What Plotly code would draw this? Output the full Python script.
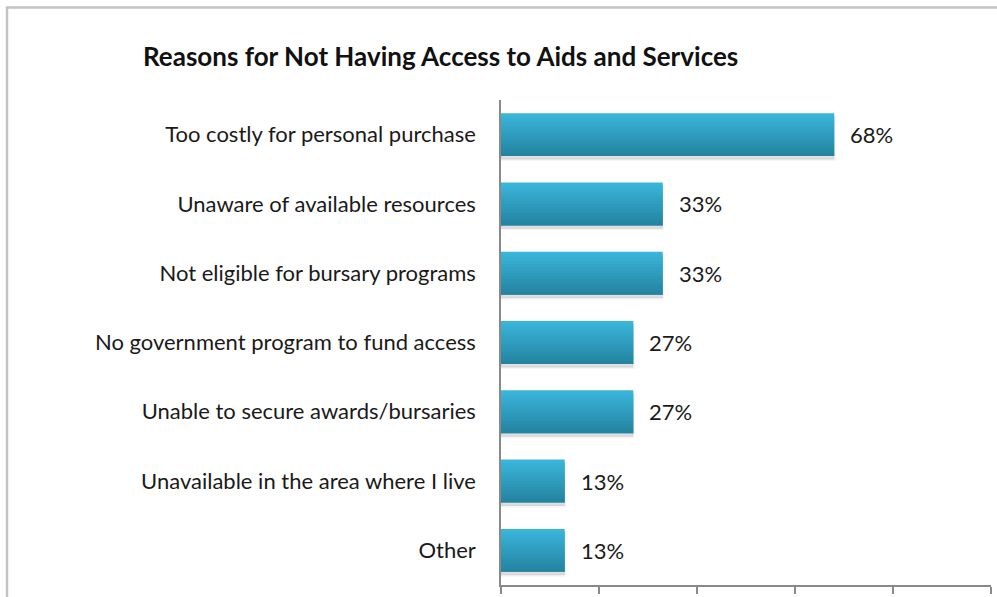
import plotly.graph_objects as go

# Survey responses: share of respondents citing each reason
reasons = [
    "Too costly for personal purchase",
    "Unaware of available resources",
    "Not eligible for bursary programs",
    "No government program to fund access",
    "Unable to secure awards/bursaries",
    "Unavailable in the area where I live",
    "Other",
]
shares = [68, 33, 33, 27, 27, 13, 13]
x_ticks = [0, 20, 40, 60, 80, 100]

title_text = "Reasons for Not Having Access to Aids and Services"

FONT = "Lato, 'Open Sans', sans-serif"
BAR_W = 0.62
N_STRIPS = 14
TOP_RGB = (58, 181, 218)
BOT_RGB = (36, 132, 161)

fig = go.Figure()

# soft drop shadow under each bar
fig.add_trace(go.Bar(
    y=reasons, x=shares, orientation="h",
    width=BAR_W, offset=-BAR_W / 2 + 0.05,
    marker=dict(color="rgba(0,0,0,0.12)",
                line=dict(color="rgba(0,0,0,0.04)", width=3)),
    hoverinfo="skip", showlegend=False,
))

# vertical gradient fill built from overlapping strips (top to bottom)
strip_w = BAR_W / N_STRIPS
for i in range(N_STRIPS):
    t = i / (N_STRIPS - 1)
    r, g, b = (round(a + (c - a) * t) for a, c in zip(TOP_RGB, BOT_RGB))
    start = -BAR_W / 2 + i * strip_w
    w = min(2 * strip_w, BAR_W / 2 - start)
    fig.add_trace(go.Bar(
        y=reasons, x=shares, orientation="h",
        width=w, offset=start,
        marker=dict(color=f"rgb({r},{g},{b})", line=dict(width=0)),
        hoverinfo="skip", showlegend=False,
    ))

# value labels to the right of each bar
for reason, v in zip(reasons, shares):
    fig.add_annotation(
        x=v, y=reason, xref="x", yref="y",
        text=f"{v}%", showarrow=False,
        xanchor="left", yanchor="middle", xshift=14,
        font=dict(family=FONT, size=22, color="#1a1a1a"),
    )

# outer frame of the chart area
fig.add_shape(
    type="rect", xref="paper", yref="paper",
    x0=(7 - 501) / 490, x1=2.0,
    y0=-1.0, y1=(585 - 7.5) / 485,
    line=dict(color="#c3c3c3", width=2.5),
    fillcolor="rgba(0,0,0,0)", layer="below",
)

fig.update_layout(
    width=997, height=597,
    margin=dict(l=501, r=6, t=100, b=12),
    paper_bgcolor="white", plot_bgcolor="white",
    barmode="overlay", bargap=0.38,
    showlegend=False,
    title=dict(
        text=f"<b>{title_text}</b>",
        x=143 / 997, xanchor="left", xref="container",
        y=1 - 57 / 597, yanchor="middle", yref="container",
        font=dict(family=FONT, size=26, color="#111111"),
    ),
)

fig.update_xaxes(
    range=[0, 100], tickvals=x_ticks, showticklabels=False,
    showgrid=False, zeroline=False,
    showline=True, linecolor="#898989", linewidth=1.5,
    ticks="outside", ticklen=7, tickcolor="#898989", tickwidth=1.5,
)
fig.update_yaxes(
    categoryorder="array", categoryarray=reasons, autorange="reversed",
    showgrid=False, zeroline=False,
    showline=True, linecolor="#898989", linewidth=1.5,
    ticks="", ticklabelstandoff=19,
    tickfont=dict(family=FONT, size=22, color="#1a1a1a"),
)

fig.write_html("out.html")
